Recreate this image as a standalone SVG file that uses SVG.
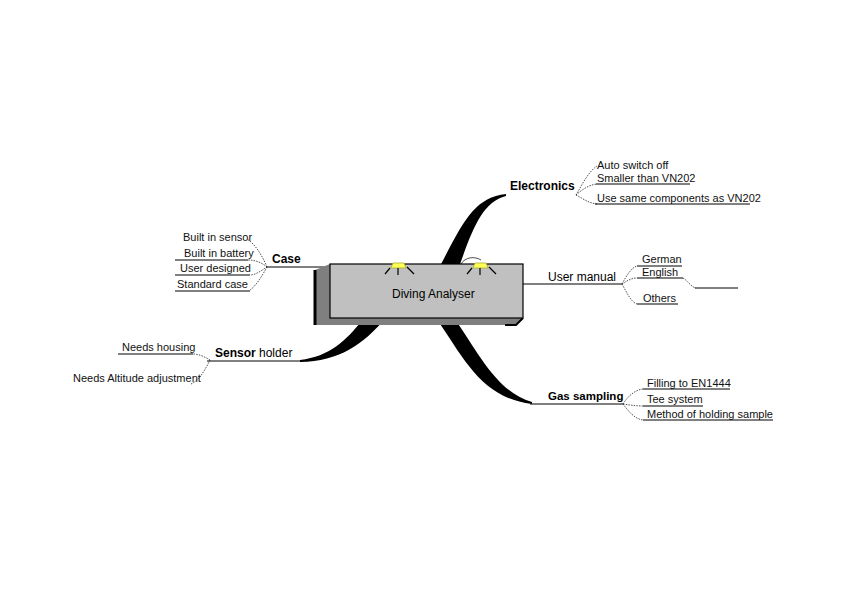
<svg xmlns="http://www.w3.org/2000/svg" width="842" height="595" viewBox="0 0 842 595">
<style>
.main{font-family:"Liberation Sans",Arial,sans-serif;font-size:12px;fill:#000}
.b{font-weight:bold}
.sub{font-family:"Liberation Sans",Arial,sans-serif;font-size:11px;fill:#111}
.ul{stroke:#000;stroke-width:1;fill:none}
.fork{stroke:#222;stroke-width:0.8;fill:none;stroke-dasharray:1.5,1.2}
.branch{fill:#000;stroke:none}
.ray{stroke:#000;stroke-width:1.2}
.bulb{fill:#ffff55;stroke:#aaaa33;stroke-width:0.8}
</style>
<rect width="842" height="595" fill="#fff"/>
<g id="connectors">
  <path class="branch" d="M438,270 C464,220 474,198 506,194 L506,196 C482,202 472,230 458,270 Z"/>
  <path class="branch" d="M436,318 C465,360 482,398 532,404 L532,402 C497,392 480,355 454,318 Z"/>
  <path class="branch" d="M364,318 C345,342 330,356 300,360 L300,362 C340,361 362,345 386,318 Z"/>
  <line class="ul" x1="207" y1="361" x2="302" y2="361"/>
  <line class="ul" x1="530" y1="404" x2="623" y2="404"/>
  <line class="ul" x1="267" y1="267" x2="330" y2="267"/>
  <line class="ul" x1="523" y1="284" x2="622" y2="284"/>
  <path class="fork" d="M576,195 C582,185 588,172 597,166"/>
  <path class="fork" d="M576,195 C582,190 588,185 597,184"/>
  <path class="fork" d="M576,195 C582,198 588,203 597,204"/>
  <path class="fork" d="M267,267 C262,255 255,244 247,239"/>
  <path class="fork" d="M267,267 C262,263 256,260 248,260"/>
  <path class="fork" d="M267,267 C262,270 256,275 250,275"/>
  <path class="fork" d="M267,267 C262,276 256,286 250,290"/>
  <path class="fork" d="M210,360 C205,357 199,354 193,354"/>
  <path class="fork" d="M210,360 C206,368 200,380 191,384"/>
  <path class="fork" d="M622,284 C627,275 631,268 637,266"/>
  <path class="fork" d="M622,284 C627,281 631,278 637,278"/>
  <path class="fork" d="M622,284 C627,293 631,302 637,304"/>
  <path class="fork" d="M683,278 C688,281 691,287 696,288"/>
  <path class="fork" d="M623,404 C628,396 635,390 643,389"/>
  <path class="fork" d="M623,404 C630,405 636,406 643,406"/>
  <path class="fork" d="M623,404 C629,412 635,419 643,420"/>
</g>
<g id="node-center">
  <polygon points="330,264 315,270 314,325 330,325" fill="#7f7f7f"/>
  <polygon points="314,318 523,318 516,325 314,325" fill="#7f7f7f"/>
  <line x1="315" y1="270" x2="315" y2="325" stroke="#000" stroke-width="3"/>
  <path d="M505,325 L516,325 L523,318" stroke="#000" stroke-width="2" fill="none"/>
  <rect x="330" y="264" width="193" height="54" fill="#c0c0c0" stroke="#000" stroke-width="1.2"/>
  <text class="main" x="392" y="298">Diving Analyser</text>
  <g id="bulb1">
    <path class="bulb" d="M391,268 L393,263 L404,263 L406,268 Z"/>
    <line class="ray" x1="398" y1="268" x2="398" y2="275"/>
    <line class="ray" x1="390" y1="268" x2="385" y2="274"/>
    <line class="ray" x1="407" y1="267" x2="414" y2="274"/>
  </g>
  <g id="bulb2">
    <path class="bulb" d="M473,268 L475,263 L486,263 L488,268 Z"/>
    <line class="ray" x1="480" y1="268" x2="480" y2="275"/>
    <line class="ray" x1="472" y1="268" x2="467" y2="274"/>
    <line class="ray" x1="489" y1="267" x2="496" y2="274"/>
    <path d="M461,264 C465,257 475,256 481,260" stroke="#000" stroke-width="0.7" fill="none"/>
  </g>
</g>
<g id="node-electronics">
  <text class="main b" x="510" y="190">Electronics</text>
  <text class="sub" x="597" y="169">Auto switch off</text>
  <text class="sub" x="597" y="182">Smaller than VN202</text>
  <line class="ul" x1="596" y1="184" x2="690" y2="184"/>
  <text class="sub" x="597" y="202">Use same components as VN202</text>
  <line class="ul" x1="595" y1="204" x2="750" y2="204"/>
</g>
<g id="node-case">
  <text class="main b" x="272" y="263">Case</text>
  <text class="sub" x="183" y="241">Built in sensor</text>
  <text class="sub" x="184" y="257">Built in battery</text>
  <line class="ul" x1="175" y1="260" x2="248" y2="260"/>
  <text class="sub" x="180" y="272">User designed</text>
  <line class="ul" x1="175" y1="275" x2="250" y2="275"/>
  <text class="sub" x="177" y="288">Standard case</text>
  <line class="ul" x1="175" y1="291" x2="250" y2="291"/>
</g>
<g id="node-sensor">
  <text class="main" x="215" y="357"><tspan class="b">Sensor</tspan> holder</text>
  <text class="sub" x="122" y="351">Needs housing</text>
  <line class="ul" x1="118" y1="354" x2="193" y2="354"/>
  <text class="sub" x="73" y="382">Needs Altitude adjustment</text>
</g>
<g id="node-manual">
  <text class="main" x="548" y="281">User manual</text>
  <text class="sub" x="642" y="263">German</text>
  <line class="ul" x1="637" y1="266" x2="682" y2="266"/>
  <text class="sub" x="642" y="276">English</text>
  <line class="ul" x1="637" y1="278" x2="683" y2="278"/>
  <line class="ul" x1="695" y1="288" x2="738" y2="288"/>
  <text class="sub" x="643" y="302">Others</text>
  <line class="ul" x1="637" y1="304" x2="678" y2="304"/>
</g>
<g id="node-gas">
  <text class="main b" x="548" y="400" style="font-size:11.5px">Gas sampling</text>
  <text class="sub" x="647" y="387">Filling to EN1444</text>
  <line class="ul" x1="643" y1="389" x2="730" y2="389"/>
  <text class="sub" x="647" y="403">Tee system</text>
  <line class="ul" x1="643" y1="406" x2="703" y2="406"/>
  <text class="sub" x="647" y="418">Method of holding sample</text>
  <line class="ul" x1="643" y1="420" x2="773" y2="420"/>
</g>
</svg>
